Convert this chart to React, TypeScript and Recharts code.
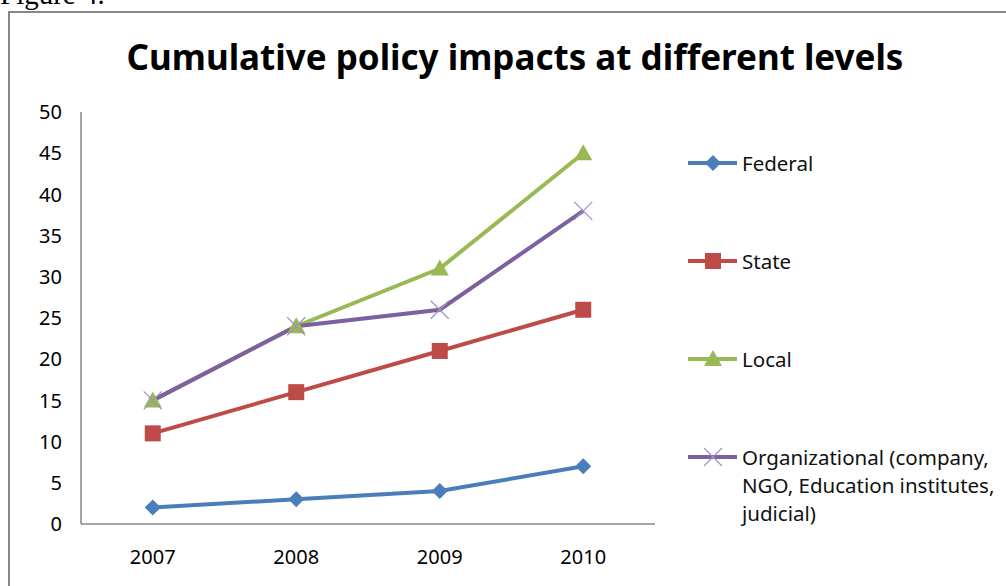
import { Legend, Line, LineChart, XAxis, YAxis } from "recharts";

const years = ["2007", "2008", "2009", "2010"];
const federal = [2, 3, 4, 7];
const stateLevel = [11, 16, 21, 26];
const local = [15, 24, 31, 45];
const organizational = [15, 24, 26, 38];
const yTicks = [0, 5, 10, 15, 20, 25, 30, 35, 40, 45, 50];

const data = years.map((year, i) => ({
  year,
  federal: federal[i],
  state: stateLevel[i],
  local: local[i],
  organizational: organizational[i],
}));

const COLORS = {
  federal: "#4a7ebb",
  state: "#be4b48",
  local: "#98b954",
  org: "#7d60a0",
  orgMarker: "#a08fc4",
};

const FONT = "'Noto Sans', sans-serif";
const axisTick = { fill: "#000", fontSize: 20, fontFamily: FONT };

type DotProps = { cx?: number; cy?: number };

const Diamond = ({ cx = 0, cy = 0 }: DotProps) => (
  <path d={`M${cx},${cy - 8}L${cx + 8},${cy}L${cx},${cy + 8}L${cx - 8},${cy}Z`} fill={COLORS.federal} />
);
const Square = ({ cx = 0, cy = 0 }: DotProps) => (
  <rect x={cx - 8} y={cy - 8} width={16} height={16} fill={COLORS.state} />
);
const Triangle = ({ cx = 0, cy = 0 }: DotProps) => (
  <path d={`M${cx},${cy - 9}L${cx + 9},${cy + 7}L${cx - 9},${cy + 7}Z`} fill={COLORS.local} />
);
const Cross = ({ cx = 0, cy = 0 }: DotProps) => (
  <path
    d={`M${cx - 9},${cy - 9}L${cx + 9},${cy + 9}M${cx - 9},${cy + 9}L${cx + 9},${cy - 9}`}
    stroke={COLORS.orgMarker}
    strokeWidth={1.2}
    fill="none"
  />
);

const legendItems = [
  { label: ["Federal"], color: COLORS.federal, Marker: Diamond },
  { label: ["State"], color: COLORS.state, Marker: Square },
  { label: ["Local"], color: COLORS.local, Marker: Triangle },
  {
    label: ["Organizational (company,", "NGO, Education institutes,", "judicial)"],
    color: COLORS.org,
    Marker: Cross,
  },
];

function LegendBox() {
  return (
    <div style={{ fontFamily: FONT, fontSize: 20.5, color: "#111", lineHeight: "28px" }}>
      {legendItems.map(({ label, color, Marker }) => (
        <div key={label[0]} style={{ display: "flex", height: 98, alignItems: "flex-start" }}>
          <svg width={54} height={28} style={{ flex: "none" }}>
            <line x1={0} x2={49} y1={14} y2={14} stroke={color} strokeWidth={4} />
            <Marker cx={25} cy={14} />
          </svg>
          <div style={{ whiteSpace: "nowrap" }}>
            {label.map((l) => (
              <div key={l}>{l}</div>
            ))}
          </div>
        </div>
      ))}
    </div>
  );
}

export default function App() {
  return (
    <div style={{ position: "relative", width: 1006, height: 586, overflow: "hidden", background: "#fff" }}>
      <style>{`body{margin:0;overflow:hidden}`}</style>
      <div
        style={{
          position: "absolute",
          left: 0,
          top: -20,
          fontFamily: "'Liberation Serif', serif",
          fontSize: 29,
          lineHeight: 1,
        }}
      >
        Figure 4.
      </div>
      <div
        style={{
          position: "absolute",
          left: 8,
          top: 11,
          width: 1020,
          height: 600,
          border: "2px solid #878787",
          boxSizing: "border-box",
        }}
      />
      <div
        style={{
          position: "absolute",
          left: 0,
          width: 1030,
          top: 36,
          textAlign: "center",
          fontFamily: FONT,
          fontWeight: 700,
          fontSize: 35,
          lineHeight: 1.2,
        }}
      >
        Cumulative policy impacts at different levels
      </div>
      <div style={{ position: "absolute", left: 8, top: 11 }}>
        <LineChart width={996} height={575} data={data} margin={{ top: 101, right: 349, bottom: 0, left: 0 }}>
          <XAxis
            dataKey="year"
            scale="band"
            height={62}
            tick={axisTick}
            tickLine={false}
            tickSize={0}
            tickMargin={26}
            axisLine={{ stroke: "#868686", strokeWidth: 1.5 }}
          />
          <YAxis
            width={73}
            domain={[0, 50]}
            ticks={yTicks}
            interval={0}
            tick={axisTick}
            tickLine={false}
            tickSize={0}
            tickMargin={19}
            axisLine={{ stroke: "#868686", strokeWidth: 1.5 }}
          />
          <Legend
            layout="vertical"
            align="center"
            verticalAlign="middle"
            content={() => <LegendBox />}
            wrapperStyle={{ left: 680, top: 138, width: 316 }}
          />
          <Line dataKey="federal" name="Federal" stroke={COLORS.federal} strokeWidth={4} dot={<Diamond />} isAnimationActive={false} />
          <Line dataKey="state" name="State" stroke={COLORS.state} strokeWidth={4} dot={<Square />} isAnimationActive={false} />
          <Line dataKey="local" name="Local" stroke={COLORS.local} strokeWidth={4} dot={<Triangle />} isAnimationActive={false} />
          <Line
            dataKey="organizational"
            name="Organizational (company, NGO, Education institutes, judicial)"
            stroke={COLORS.org}
            strokeWidth={4}
            dot={<Cross />}
            isAnimationActive={false}
          />
        </LineChart>
      </div>
    </div>
  );
}
